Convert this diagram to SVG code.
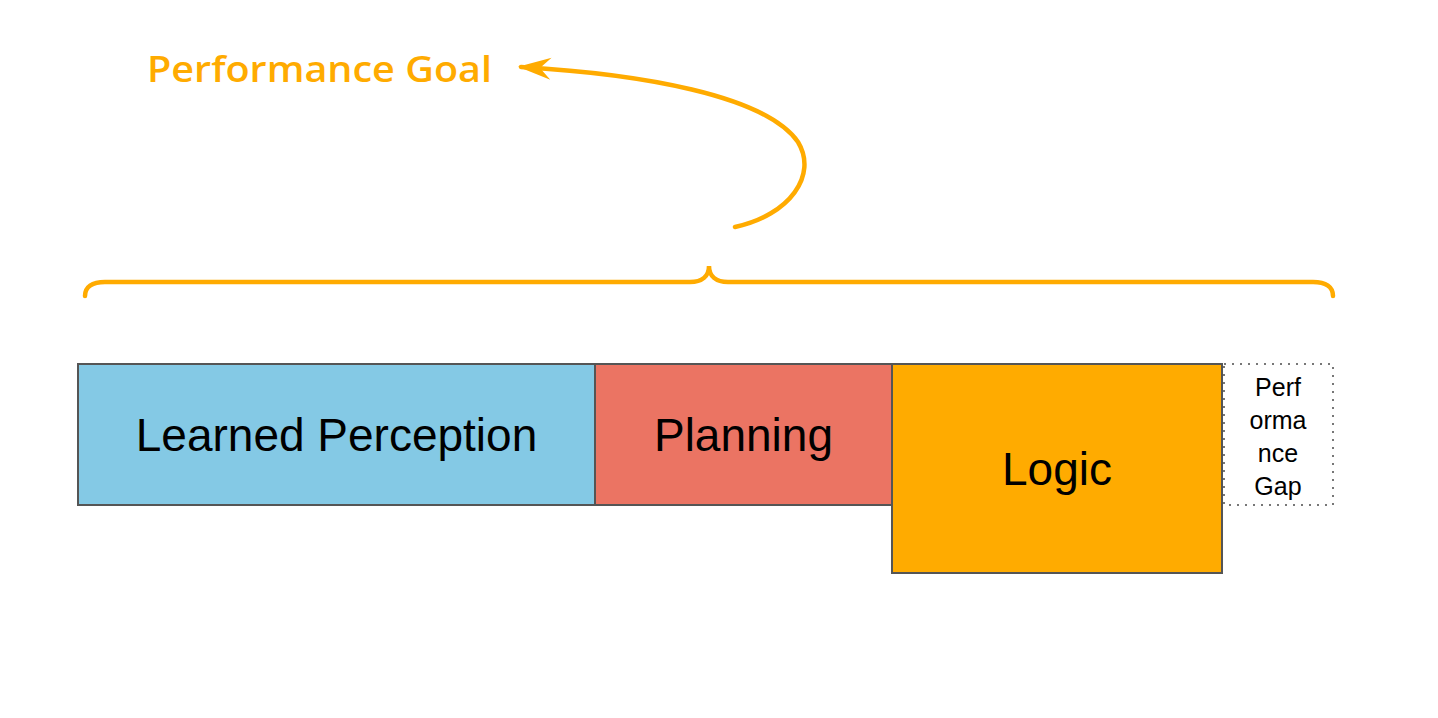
<svg xmlns="http://www.w3.org/2000/svg" width="1438" height="718" viewBox="0 0 1438 718">
<style>
.box{stroke:#555;stroke-width:2}
.lbl{font-family:"Liberation Sans",Arial,sans-serif;font-size:46px;fill:#000;text-anchor:middle}
.small{font-family:"Liberation Sans",Arial,sans-serif;font-size:25px;fill:#000;text-anchor:middle}
.orange{fill:none;stroke:#FFAB00;stroke-width:4.5;stroke-linecap:round}
</style>
<defs>
<marker id="ah" markerUnits="userSpaceOnUse" markerWidth="40" markerHeight="40" refX="30" refY="20" orient="auto" viewBox="0 0 40 40">
<path d="M33,20 L0,9 L11,20 L0,31 Z" fill="#FFAB00"/>
</marker>
</defs>
<rect width="1438" height="718" fill="#fff"/>
<g id="learned-perception">
<rect class="box" x="78" y="364" width="517" height="141" fill="#84C9E5"/>
<text class="lbl" x="336.5" y="451">Learned Perception</text>
</g>
<g id="planning">
<rect class="box" x="595" y="364" width="297" height="141" fill="#EB7463"/>
<text class="lbl" x="743.5" y="451">Planning</text>
</g>
<g id="logic">
<rect class="box" x="892" y="364" width="330" height="209" fill="#FFAB00"/>
<text class="lbl" x="1057" y="485">Logic</text>
</g>
<g id="performance-gap">
<rect x="1224" y="364" width="109" height="141" fill="none" stroke="#777" stroke-width="2" stroke-dasharray="2 6"/>
<text class="small" x="1278" y="396">Perf</text>
<text class="small" x="1278" y="429">orma</text>
<text class="small" x="1278" y="462">nce</text>
<text class="small" x="1278" y="495">Gap</text>
</g>
<g id="performance-goal">
<text x="147" y="82" font-family="'Open Sans','DejaVu Sans',sans-serif" font-size="36" font-weight="600" fill="#FFAB00" textLength="345" lengthAdjust="spacingAndGlyphs">Performance Goal</text>
</g>
<g id="connectors">
<path id="brace" class="orange" d="M85,296 C85,287 92,282 105,282 L690,282 C702,282 709,276 709,266 C709,276 716,282 728,282 L1313,282 C1326,282 1333,287 1333,296"/>
<path id="goal-arrow" class="orange" marker-end="url(#ah)" d="M735,227 C790,215 818,175 798,142 C765,95 640,74 521,67"/>
</g>
</svg>
